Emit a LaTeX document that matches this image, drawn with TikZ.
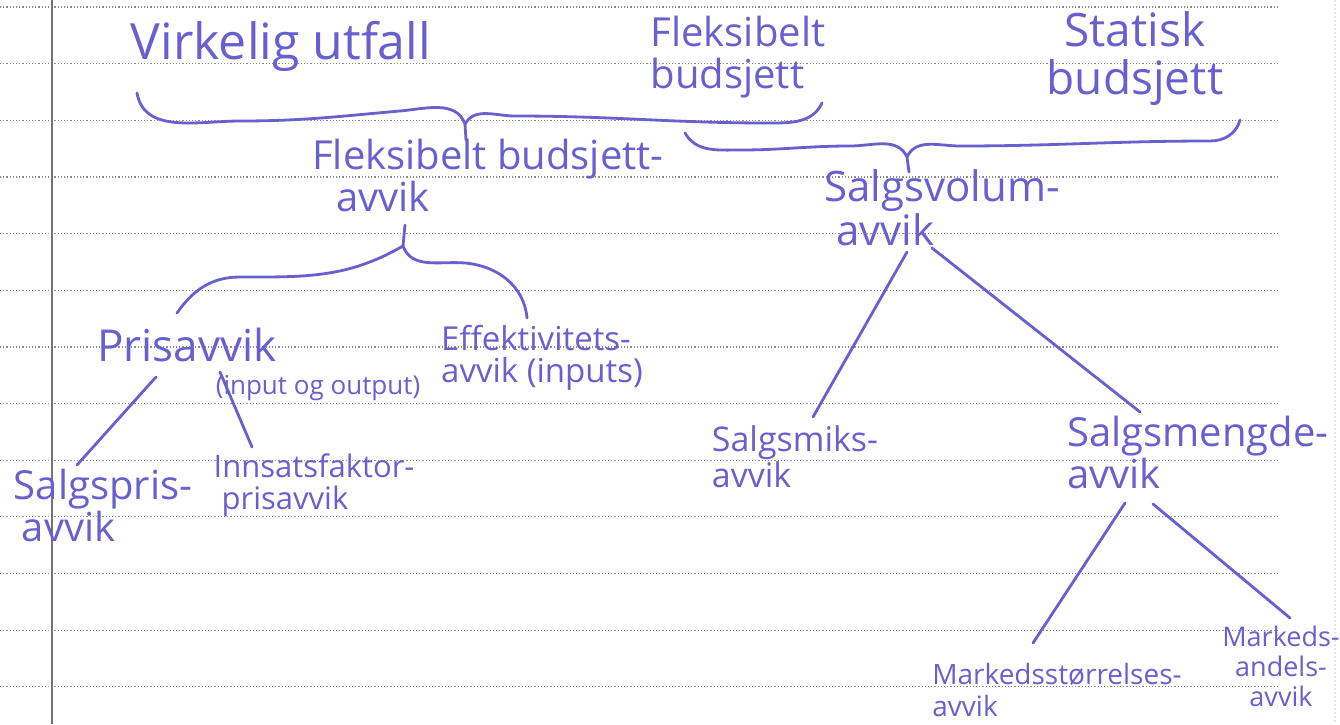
\documentclass[tikz,border=0pt]{standalone}
\usepackage{fontspec}
\setmainfont{Open Sans}
\usepackage{tikz}
\definecolor{ink}{RGB}{104,96,206}
\newcommand\inkfont[2]{\fontsize{#1}{#2}\selectfont}
\tikzset{
	hand/.style={
		text=ink,
		inner sep=0pt,
		align=left},
	inkLine/.style={
		draw=ink,
		line width=1.4pt,
		line cap=round,
		line join=round},
	noteLine/.style={
		draw=black!45,
		line width=0.6pt,
		densely dotted},
	marginLine/.style={
		draw=black!55,
		line width=0.7pt},
	edgeLine/.style={
		draw=black!10,
		line width=1pt,
		densely dotted},
}

\begin{document}
\begin{tikzpicture}[x=0.5pt, y=-0.5pt]
	% paper
	\fill [white] (0,0) rectangle (1340,724);
	\useasboundingbox (0,0) rectangle (1340,724);
	\foreach \k in {0,...,12}
		\draw [noteLine] (0,{7+56.65*\k}) -- (1277,{7+56.65*\k});
	\draw [marginLine] (52,0) -- (52,724);
	\draw [edgeLine] (1335,0) -- (1335,724);

	% top row
	\node [hand, font=\inkfont{25}{25}] (utfall) at (281,46) {Virkelig utfall};
	\node [hand, font=\inkfont{20}{21}] (flexBudsjett) at (738,57) {Fleksibelt\\budsjett};
	\node [hand, align=center, font=\inkfont{23}{24}] (statBudsjett) at (1135,59) {Statisk\\budsjett};

	% second row
	\node [hand, font=\inkfont{20}{17}] (flexAvvik) at (488,175) {Fleksibelt budsjett-\\\hspace*{12pt}avvik};
	\node [hand, font=\inkfont{21}{17}] (volumAvvik) at (942,208) {Salgsvolum-\\\hspace*{6pt}avvik};

	% under flexible budget deviation
	\node [hand, font=\inkfont{22}{20}] (prisAvvik) at (187,345) {Prisavvik};
	\node [hand, font=\inkfont{13}{13}] (prisNote) at (318,388) {(input og output)};
	\node [hand, font=\inkfont{16.5}{16}] (effAvvik) at (542,358) {Effektivitets-\\avvik (inputs)};
	\node [hand, font=\inkfont{20}{17}] (salgsprisAvvik) at (103,505) {Salgspris-\\\hspace*{4pt}avvik};
	\node [hand, font=\inkfont{15.5}{16}] (innsatsAvvik) at (314,485) {Innsatsfaktor-\\\hspace*{4pt}prisavvik};

	% under sales volume deviation
	\node [hand, font=\inkfont{17}{16}] (miksAvvik) at (795,457) {Salgsmiks-\\avvik};
	\node [hand, font=\inkfont{20}{16}] (mengdeAvvik) at (1198,452) {Salgsmengde-\\avvik};
	\node [hand, font=\inkfont{14}{16}] (storrelseAvvik) at (1057,690) {Markedsstørrelses-\\avvik};
	\node [hand, align=center, font=\inkfont{13.5}{15}] (andelAvvik) at (1281,666) {Markeds-\\andels-\\avvik};

	% brace ends
	\coordinate (braceFlexL) at (137,93);
	\coordinate (braceFlexJoin) at (465,124);
	\coordinate (braceFlexTip) at (466,140);
	\coordinate (braceFlexR) at (822,103);
	\coordinate (braceVolL) at (685,133);
	\coordinate (braceVolJoin) at (907,157);
	\coordinate (braceVolTip) at (909,172);
	\coordinate (braceVolR) at (1240,120);

	% fork and line ends
	\coordinate (forkFlexTop) at (405,225);
	\coordinate (forkFlexSplit) at (403,246);
	\coordinate (forkFlexL) at (177,313);
	\coordinate (forkFlexR) at (527,318);
	\coordinate (prisLTop) at (156,377);
	\coordinate (prisLEnd) at (77,465);
	\coordinate (prisRTop) at (220,372);
	\coordinate (prisREnd) at (252,447);
	\coordinate (volLTop) at (907,252);
	\coordinate (volLEnd) at (813,417);
	\coordinate (volRTop) at (932,248);
	\coordinate (volREnd) at (1140,412);
	\coordinate (mengdeLTop) at (1125,503);
	\coordinate (mengdeLEnd) at (1033,643);
	\coordinate (mengdeRTop) at (1153,504);
	\coordinate (mengdeREnd) at (1290,618);

	% braces: actual + flexible -> flexible budget deviation
	\draw [inkLine] (braceFlexL) to [out=-80, in=180] (240,121) to [out=0, in=185] (400,111) to [out=5, in=110] (braceFlexJoin) -- (braceFlexTip);
	\draw [inkLine] (braceFlexJoin) to [out=60, in=180] (515,116) to [out=0, in=180] (770,123) to [out=0, in=-115] (braceFlexR);

	% braces: flexible + static -> sales volume deviation
	\draw [inkLine] (braceVolL) to [out=-60, in=180] (740,150) to [out=0, in=180] (850,146) to [out=0, in=115] (braceVolJoin) -- (braceVolTip);
	\draw [inkLine] (braceVolJoin) to [out=65, in=180] (960,146) to [out=0, in=180] (1210,141) to [out=0, in=-105] (braceVolR);

	% flexible budget deviation split
	\draw [inkLine] (forkFlexTop) -- (forkFlexSplit);
	\draw [inkLine] (forkFlexSplit) to [out=210, in=0] (240,277) to [out=180, in=55] (forkFlexL);
	\draw [inkLine] (forkFlexSplit) to [out=-70, in=175] (465,263) to [out=-5, in=95] (forkFlexR);

	% price deviation split
	\draw [inkLine] (prisLTop) -- (prisLEnd);
	\draw [inkLine] (prisRTop) -- (prisREnd);

	% sales volume deviation split
	\draw [inkLine] (volLTop) -- (volLEnd);
	\draw [inkLine] (volRTop) -- (volREnd);

	% sales quantity deviation split
	\draw [inkLine] (mengdeLTop) -- (mengdeLEnd);
	\draw [inkLine] (mengdeRTop) -- (mengdeREnd);
\end{tikzpicture}
\end{document}
